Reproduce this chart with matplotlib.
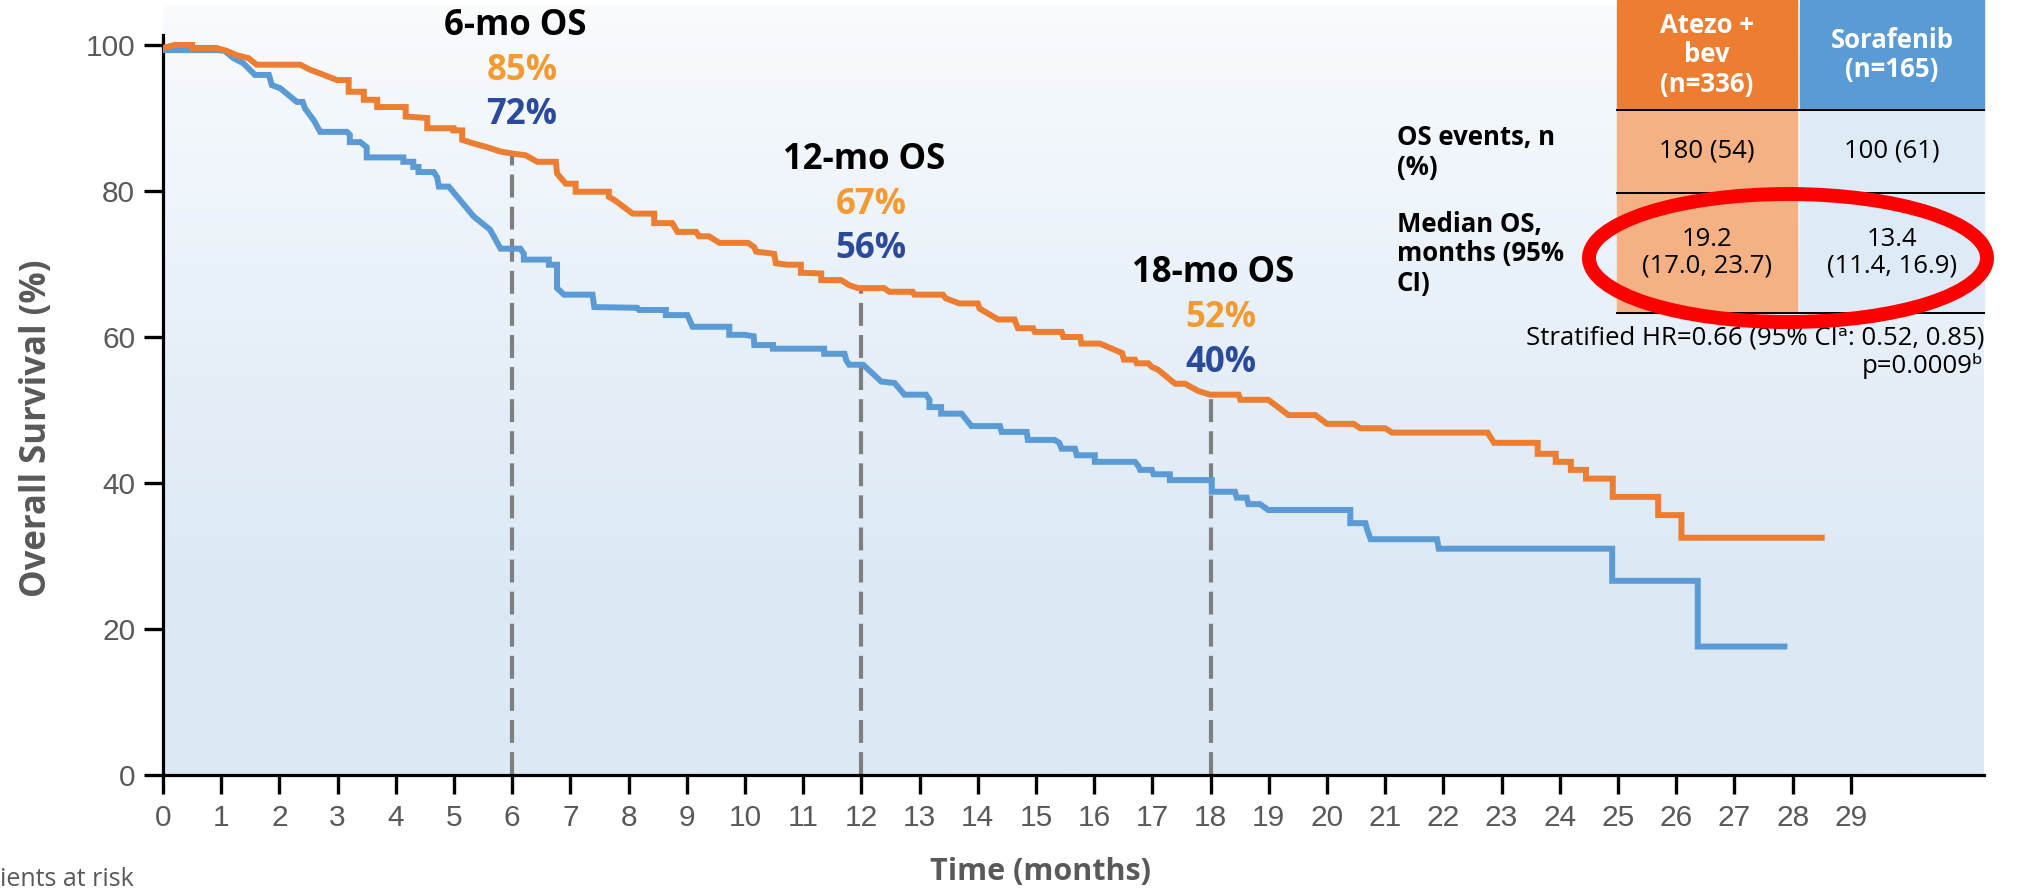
import numpy as np
import matplotlib
matplotlib.use('Agg')
import matplotlib.pyplot as plt
from matplotlib.patches import Rectangle, Ellipse
from matplotlib.lines import Line2D

W, H = 2020, 891

# KM curve vertices (months, % surviving)
atezo_t = [0, 0.2, 0.5, 0.5, 0.92, 1.09, 1.27, 1.47, 1.61, 2.36, 2.53, 2.70, 2.99, 3.19, 3.19,
           3.45, 3.45, 3.68, 3.68, 4.17, 4.17, 4.54, 4.54, 4.99, 4.99, 5.14, 5.14, 5.34, 5.57,
           5.80, 6.03, 6.23, 6.43, 6.75, 6.77, 6.92, 7.09, 7.09, 7.66, 7.66, 7.75, 8.07, 8.44,
           8.44, 8.75, 8.84, 9.16, 9.21, 9.38, 9.56, 10.05, 10.16, 10.19, 10.50, 10.53, 10.73,
           10.96, 10.96, 11.31, 11.31, 11.65, 11.79, 11.94, 12.39, 12.48, 12.88, 12.91, 13.40,
           13.45, 13.68, 14.00, 14.03, 14.35, 14.63, 14.69, 14.95, 14.98, 15.44, 15.47, 15.76,
           15.78, 16.10, 16.48, 16.51, 16.70, 16.73, 16.93, 16.99, 17.10, 17.39, 17.56, 17.79,
           17.99, 18.48, 18.51, 18.99, 19.34, 19.80, 20.00, 20.46, 20.57, 21.00, 21.12, 22.76,
           22.87, 23.62, 23.62, 23.93, 23.93, 24.19, 24.19, 24.45, 24.45, 24.91, 24.91, 25.69,
           25.69, 26.09, 26.09, 28.5]
atezo_s = [99.6, 100, 100, 99.6, 99.6, 99.2, 98.6, 98.2, 97.3, 97.3, 96.6, 96.1, 95.2, 95.2, 93.6,
           93.6, 92.5, 92.5, 91.5, 91.5, 90.2, 90.0, 88.6, 88.6, 88.3, 88.3, 87.0, 86.5, 86.0,
           85.4, 85.1, 84.9, 84.0, 84.0, 82.4, 81.0, 81.0, 79.9, 79.9, 79.2, 78.8, 76.9, 76.9,
           75.6, 75.6, 74.4, 74.4, 73.8, 73.8, 72.9, 72.9, 72.3, 71.7, 71.4, 70.1, 69.9,
           69.9, 68.8, 68.7, 67.8, 67.8, 67.1, 66.7, 66.7, 66.2, 66.2, 65.8, 65.8,
           65.3, 64.6, 64.6, 63.9, 62.4, 62.4, 61.2, 61.2, 60.7, 60.7, 60.0, 60.0,
           59.1, 59.1, 57.8, 56.9, 56.9, 56.4, 56.4, 55.9, 55.5, 53.6, 53.6, 52.6,
           52.1, 52.1, 51.4, 51.4, 49.3, 49.3, 48.1, 48.1, 47.5, 47.5, 46.9, 46.9,
           45.5, 45.5, 44.0, 44.0, 42.9, 42.9, 41.8, 41.8, 40.6, 40.6, 38.1, 38.1,
           35.6, 35.6, 32.5, 32.5]

sora_t = [0, 0.92, 1.06, 1.21, 1.38, 1.58, 1.82, 1.87, 2.01, 2.30, 2.40, 2.44, 2.59, 2.70, 3.16,
          3.21, 3.21, 3.39, 3.50, 3.50, 4.13, 4.13, 4.30, 4.30, 4.39, 4.39, 4.65, 4.71, 4.74,
          4.91, 5.34, 5.62, 5.80, 6.14, 6.20, 6.20, 6.63, 6.63, 6.77, 6.77, 6.89, 7.38, 7.41,
          8.15, 8.18, 8.64, 8.64, 9.01, 9.10, 9.73, 9.73, 9.99, 10.15, 10.16, 10.48, 10.48,
          11.36, 11.36, 11.71, 11.74, 11.79, 12.03, 12.34, 12.57, 12.74, 13.11, 13.17, 13.17,
          13.37, 13.37, 13.72, 13.89, 14.38, 14.41, 14.84, 14.86, 15.32, 15.40, 15.44, 15.67,
          15.70, 16.01, 16.01, 16.70, 16.76, 16.79, 16.99, 17.02, 17.30, 17.30, 18.02, 18.02,
          18.42, 18.45, 18.62, 18.65, 18.85, 18.99, 20.40, 20.40, 20.66, 20.69, 20.75, 21.89,
          21.92, 24.9, 24.9, 26.37, 26.37, 27.86]
sora_s = [99.3, 99.3, 99.2, 98.2, 97.5, 95.9, 95.9, 94.5, 94.1, 92.2, 92.2, 91.3, 89.7, 88.1, 88.1,
          87.7, 86.7, 86.7, 86.0, 84.6, 84.6, 84.0, 84.0, 83.3, 83.3, 82.6, 82.6, 81.9, 80.6,
          80.6, 76.5, 74.7, 72.1, 72.1, 71.4, 70.6, 70.6, 69.9, 69.9, 66.7, 65.8, 65.8, 64.1,
          64.0, 63.7, 63.7, 63.0, 63.0, 61.4, 61.4, 60.3, 60.3, 60.1, 58.9, 58.9, 58.4,
          58.4, 57.7, 57.7, 56.8, 56.2, 56.2, 53.9, 53.7, 52.1, 52.1, 51.4, 50.4,
          50.4, 49.5, 49.5, 47.8, 47.8, 47.0, 47.0, 45.9, 45.9, 45.5, 44.7, 44.7,
          43.8, 43.8, 42.9, 42.9, 42.3, 41.8, 41.8, 41.2, 41.2, 40.4, 40.4, 38.8,
          38.8, 38.0, 38.0, 37.1, 37.1, 36.3, 36.3, 34.5, 34.5, 33.6, 32.3, 32.3,
          31.0, 31.0, 26.6, 26.6, 17.6, 17.6]

# landmark OS rates
landmark_mo = [6, 12, 18]
landmark_atezo = [85, 67, 52]
landmark_sora = [72, 56, 40]

# summary table
arm_names = ['Atezo +\nbev\n(n=336)', 'Sorafenib\n(n=165)']
row_names = ['OS events, n\n(%)', 'Median OS,\nmonths (95%\nCI)']
cell_text = [['180 (54)', '100 (61)'],
             ['19.2\n(17.0, 23.7)', '13.4\n(11.4, 16.9)']]

ORANGE = '#ED7D31'
BLUE = '#5B9BD5'
ORANGE_LT = '#F4B183'
BLUE_LT = '#DEEAF6'
PCT_OR = '#F39A32'
PCT_BL = '#2B4A9B'
GREY = '#595959'
FONT = ['Open Sans', 'DejaVu Sans']
TAB_FS = 18.5

plt.rcParams['font.family'] = FONT

fig = plt.figure(figsize=(W / 100, H / 100), dpi=100)
fig.patch.set_facecolor('white')


def fx(x):
    return x / W


def fy(y):
    return 1 - y / H


# axes box in pixel terms: y-axis at x=163, right end 1984, zero at 775, top 5
ax = fig.add_axes([fx(163), fy(775), fx(1984 - 163), (775 - 5) / H])
xmax = (1984 - 163) / 58.2
ymax = (775 - 5) / 7.3
ax.set_xlim(0, xmax)
ax.set_ylim(0, ymax)

# gradient background
f = np.linspace(0, 1, 300)
mix = np.clip(f / 0.75, 0, 1) ** 0.85
top = np.array([0xFA, 0xFC, 0xFE]) / 255
bot = np.array([0xDC, 0xE9, 0xF5]) / 255
grad = top[None, :] * (1 - mix[:, None]) + bot[None, :] * mix[:, None]
grad = np.repeat(grad[:, None, :], 2, axis=1)
ax.imshow(grad, extent=[0, xmax, 0, ymax], aspect='auto', origin='upper', zorder=0)
ax.set_facecolor('none')

# landmark dashed lines
for m, a in zip(landmark_mo, landmark_atezo):
    ax.plot([m, m], [0, a], color='#7F7F7F', lw=3, dashes=(5.5, 2.2), zorder=2)

ax.plot(sora_t, sora_s, color=BLUE, lw=4.3, solid_joinstyle='miter', zorder=3)
ax.plot(atezo_t, atezo_s, color=ORANGE, lw=4.3, solid_joinstyle='miter', zorder=4)

# landmark labels
lab_y = [102.6, 84.2, 68.7]
for m, a, s, yy in zip(landmark_mo, landmark_atezo, landmark_sora, lab_y):
    ax.text(m + 0.05, yy, f'{m}-mo OS', ha='center', va='center', fontsize=25,
            fontweight='bold', color='black', zorder=5)
    ax.text(m + 0.17, yy - 6.1, f'{a}%', ha='center', va='center', fontsize=25,
            fontweight='bold', color=PCT_OR, zorder=5)
    ax.text(m + 0.17, yy - 12.2, f'{s}%', ha='center', va='center', fontsize=25,
            fontweight='bold', color=PCT_BL, zorder=5)

# spines / ticks
for s in ['top', 'right']:
    ax.spines[s].set_visible(False)
ax.spines['left'].set_bounds(0, 101.4)
for s in ['left', 'bottom']:
    ax.spines[s].set_linewidth(2.3)
ax.set_xticks(range(0, 30))
ax.set_yticks(range(0, 101, 20))
ax.tick_params(length=14, width=2.4, colors='black', labelcolor=GREY, labelsize=21.5)
ax.tick_params(axis='x', pad=7)
ax.tick_params(axis='y', pad=6)
for lab in ax.get_xticklabels() + ax.get_yticklabels():
    lab.set_family('Liberation Sans')

fig.text(fx(37), fy(428), 'Overall Survival (%)', rotation=90, ha='center', va='center',
         fontsize=25, fontweight='bold', color=GREY)
fig.text(fx(1040), fy(872), 'Time (months)', ha='center', va='center',
         fontsize=22, fontweight='bold', color=GREY)
fig.text(0, fy(879), 'ients at risk', ha='left', va='center', fontsize=18, color=GREY)

# summary table (pixel layout)
col_x = [(1617, 1797), (1800, 1984)]
row_y = [(110, 193), (193, 313)]
head_cols = [ORANGE, BLUE]
body_cols = [ORANGE_LT, BLUE_LT]
for (x0, x1), c in zip(col_x, head_cols):
    fig.patches.append(Rectangle((fx(x0), fy(110)), fx(x1 - x0), 110 / H,
                                 transform=fig.transFigure, color=c, zorder=1))
for (y0, y1) in row_y:
    for (x0, x1), c in zip(col_x, body_cols):
        fig.patches.append(Rectangle((fx(x0), fy(y1)), fx(x1 - x0), (y1 - y0) / H,
                                     transform=fig.transFigure, color=c, zorder=1))
for yl in [110, 193, 313]:
    fig.lines.append(Line2D([fx(1617), fx(1984)], [fy(yl), fy(yl)],
                            transform=fig.transFigure, color='black', lw=1.4, zorder=2))
for (x0, x1), name in zip(col_x, arm_names):
    fig.text(fx((x0 + x1) / 2), fy(55), name, ha='center', va='center', fontsize=TAB_FS,
             fontweight='bold', color='white', linespacing=1.1, zorder=3)
for (y0, y1), name, row in zip(row_y, row_names, cell_text):
    yc = (y0 + y1) / 2
    fig.text(fx(1397), fy(yc + 1), name, ha='left', va='center', fontsize=TAB_FS,
             fontweight='bold', color='black', linespacing=1.1, zorder=3)
    for (x0, x1), txt in zip(col_x, row):
        fig.text(fx((x0 + x1) / 2), fy(yc), txt, ha='center', va='center', fontsize=TAB_FS,
                 color='black', linespacing=1.1, zorder=3)

fig.text(fx(1984), fy(338), 'Stratified HR=0.66 (95% CI\u1d43: 0.52, 0.85)', ha='right',
         va='center', fontsize=TAB_FS, color='black', family=FONT)
fig.text(fx(1984), fy(366), 'p=0.0009\u1d47', ha='right', va='center', fontsize=TAB_FS,
         color='black', family=FONT)

fig.patches.append(Ellipse((fx(1788), fy(258)), fx(398), 128 / H, transform=fig.transFigure,
                           fill=False, ec='#FF0000', lw=10, zorder=5))

fig.savefig('out.png', dpi=100)
